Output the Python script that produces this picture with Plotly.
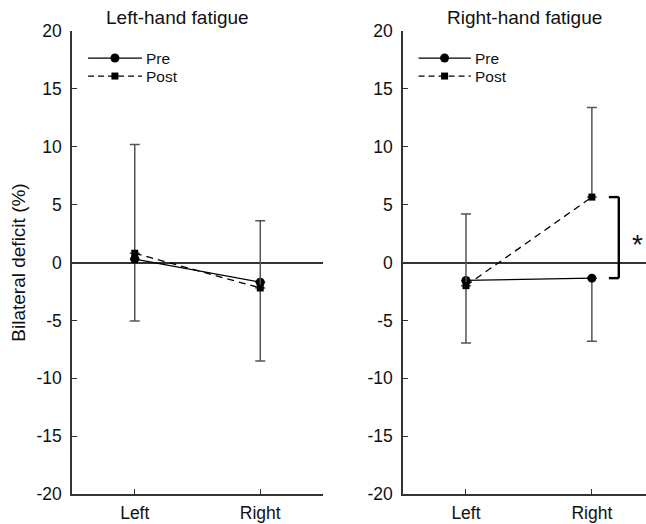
import plotly.graph_objects as go
from plotly.subplots import make_subplots

# Bilateral deficit (%) by hand, before and after fatigue
conditions = ["Left", "Right"]
panel_titles = ["Left-hand fatigue", "Right-hand fatigue"]

lh_pre = [0.3, -1.7]
lh_pre_sd = [5.35, 6.8]
lh_post = [0.8, -2.2]
lh_post_sd = [9.4, 5.8]

rh_pre = [-1.55, -1.35]
rh_pre_sd = [5.4, 5.45]
rh_post = [-2.0, 5.65]
rh_post_sd = [6.2, 7.75]

y_ticks = [-20, -15, -10, -5, 0, 5, 10, 15, 20]

FONT = "Liberation Sans, Arial, sans-serif"
AXIS_COL = "#333333"
ERR_COL = "#555555"
TXT_COL = "#111111"

xpos = [1, 2]

fig = make_subplots(rows=1, cols=2, horizontal_spacing=0.1394)
fig.layout.xaxis.domain = [0.0, 0.4373]
fig.layout.xaxis2.domain = [0.5767, 1.0]


def add_pair(col, pre, pre_sd, post, post_sd):
    # Pre: solid line, circles, error bar downward
    fig.add_trace(go.Scatter(
        x=xpos, y=pre, mode="lines+markers", name="Pre", showlegend=False,
        line=dict(color="black", width=1.3),
        marker=dict(symbol="circle", size=9, color="black"),
        error_y=dict(type="data", symmetric=False, array=[0, 0], arrayminus=pre_sd,
                     color=ERR_COL, thickness=1.5, width=5),
        cliponaxis=False,
    ), row=1, col=col)
    # Post: dashed line, squares, error bar upward
    fig.add_trace(go.Scatter(
        x=xpos, y=post, mode="lines+markers", name="Post", showlegend=False,
        line=dict(color="black", width=1.3, dash="7px,5px"),
        marker=dict(symbol="square", size=7, color="black"),
        error_y=dict(type="data", symmetric=False, array=post_sd, arrayminus=[0, 0],
                     color=ERR_COL, thickness=1.5, width=5),
        cliponaxis=False,
    ), row=1, col=col)


add_pair(1, lh_pre, lh_pre_sd, lh_post, lh_post_sd)
add_pair(2, rh_pre, rh_pre_sd, rh_post, rh_post_sd)

axis_common = dict(
    showline=True, linecolor=AXIS_COL, linewidth=1.5,
    ticks="inside", ticklen=5, tickwidth=1.2, tickcolor=AXIS_COL,
    showgrid=False, tickfont=dict(family=FONT, size=17.5, color=TXT_COL),
)

fig.update_xaxes(tickvals=xpos, ticktext=conditions, zeroline=False,
                 ticklabelstandoff=2, **axis_common)
fig.update_xaxes(range=[0.5, 2.5], row=1, col=1)
fig.update_xaxes(range=[0.5, 2.43], row=1, col=2)
fig.update_yaxes(range=[-20, 20], tickvals=y_ticks, ticktext=[str(v) for v in y_ticks],
                 zeroline=True, zerolinecolor=AXIS_COL, zerolinewidth=1.5,
                 ticklabelstandoff=5, **axis_common)
fig.update_yaxes(title=dict(text="Bilateral deficit (%)", standoff=6,
                            font=dict(family=FONT, size=19, color=TXT_COL)),
                 row=1, col=1)

shapes = []
annotations = []

# In-panel legends
for xr, yr in [("x domain", "y domain"), ("x2 domain", "y2 domain")]:
    for ly, label, dash, sym in [(0.9416, "Pre", "solid", "circle"),
                                 (0.9027, "Post", "6px,4px", "rect")]:
        shapes.append(dict(type="line", xref=xr, yref=yr, x0=0.064, x1=0.279,
                           y0=ly, y1=ly, line=dict(color="black", width=1.3, dash=dash)))
        half = 4.5 if sym == "circle" else 3.5
        shapes.append(dict(type=sym, xref=xr, yref=yr,
                           xsizemode="pixel", ysizemode="pixel",
                           xanchor=0.171, yanchor=ly,
                           x0=-half, x1=half, y0=-half, y1=half,
                           fillcolor="black", line=dict(color="black", width=0)))
        annotations.append(dict(xref=xr, yref=yr, x=0.287, y=ly, text=label,
                                showarrow=False, xanchor="left", yanchor="middle",
                                font=dict(family=FONT, size=15.5, color=TXT_COL)))

# Significance bracket between Pre and Post at the right hand (right-hand fatigue)
bx_in, bx_out = 2.135, 2.214
y_top, y_bot = rh_post[1], rh_pre[1]
bracket = dict(color="black", width=2.4)
shapes += [
    dict(type="line", xref="x2", yref="y2", x0=bx_in, x1=bx_out, y0=y_top, y1=y_top, line=bracket),
    dict(type="line", xref="x2", yref="y2", x0=bx_out, x1=bx_out, y0=y_top, y1=y_bot, line=bracket),
    dict(type="line", xref="x2", yref="y2", x0=bx_in, x1=bx_out, y0=y_bot, y1=y_bot, line=bracket),
]
annotations.append(dict(xref="x2", yref="y2", x=2.36, y=(y_top + y_bot) / 2 - 0.6, text="*",
                        showarrow=False, xanchor="center", yanchor="middle",
                        font=dict(family=FONT, size=28, color=TXT_COL)))

# Panel titles
for xr, t in [("x domain", panel_titles[0]), ("x2 domain", panel_titles[1])]:
    annotations.append(dict(xref=xr, yref="paper", x=0.5 if xr == "x2 domain" else 0.42,
                            y=1.0, yshift=14, text=t, showarrow=False,
                            xanchor="center", yanchor="middle",
                            font=dict(family=FONT, size=19, color=TXT_COL)))

fig.update_layout(
    width=646, height=524,
    margin=dict(l=72, r=0, t=31, b=30),
    plot_bgcolor="white", paper_bgcolor="white",
    shapes=shapes, annotations=annotations,
    showlegend=False,
)

fig.write_html("out.html", config={"displayModeBar": False})
